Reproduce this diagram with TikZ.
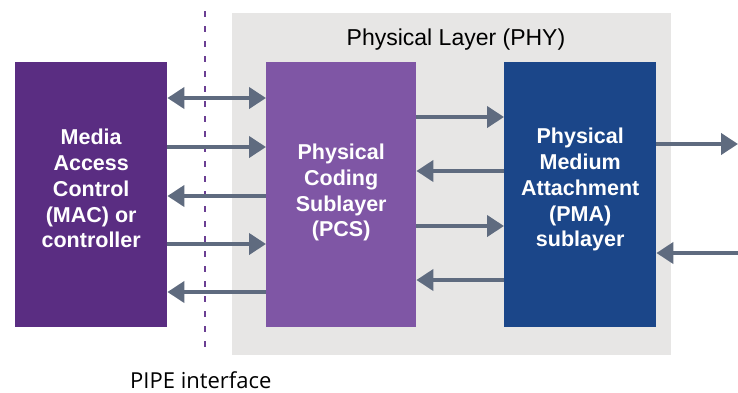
\documentclass[tikz,border=0pt]{standalone}
\usepackage{fontspec}
\setmainfont{Liberation Sans}
\newfontfamily\pipefont{Open Sans}
\usetikzlibrary{arrows.meta}
\definecolor{macc}{HTML}{5A2D82}
\definecolor{pcsc}{HTML}{7F56A5}
\definecolor{pmac}{HTML}{1B4689}
\definecolor{phyc}{HTML}{E7E6E5}
\definecolor{arrc}{HTML}{5F6B7F}
\definecolor{dashc}{HTML}{6B3F93}
\begin{document}
\begin{tikzpicture}[x=1pt,y=-1pt,
  blk/.style={draw=none,minimum height=265pt,inner sep=0pt,anchor=north west},
  blktxt/.style={inner sep=0pt,align=center,text=white,
    font=\fontsize{21.5}{25.8}\selectfont\bfseries},
  conn/.style={draw=arrc,line width=4pt,-{Triangle[length=17pt,width=21pt]}},
  conn2/.style={draw=arrc,line width=4pt,{Triangle[length=17pt,width=21pt]}-{Triangle[length=17pt,width=21pt]}}]
\useasboundingbox (0,0) rectangle (738,392);
\fill[white] (0,0) rectangle (738,392);
\node[fill=phyc,minimum width=439pt,minimum height=342pt,inner sep=0pt,anchor=north west] (phy) at (232,13) {};
\node[font=\fontsize{23}{26}\selectfont,anchor=base,inner sep=0pt] (phyt) at (456,45) {Physical Layer (PHY)};
\draw[dashc,line width=2.5pt,dash pattern=on 6pt off 9pt] (205,11) coordinate (dtop) -- (205,352) coordinate (dbot);
\node[blk,fill=macc,minimum width=152pt] (mac) at (15,62) {};
\node[blk,fill=pcsc,minimum width=150pt] (pcs) at (266,62) {};
\node[blk,fill=pmac,minimum width=152pt] (pma) at (504,62) {};
\node[blktxt] (mact) at ([yshift=6pt]mac.center) {Media\\Access\\Control\\(MAC) or\\controller};
\node[blktxt] (pcst) at ([yshift=2pt]pcs.center) {Physical\\Coding\\Sublayer\\(PCS)};
\node[blktxt] (pmat) at ([yshift=5pt]pma.center) {Physical\\Medium\\Attachment\\(PMA)\\sublayer};
\node[font=\pipefont\fontsize{22}{24}\selectfont,anchor=base west,inner sep=0pt] (pipe) at (130,388) {PIPE interface};
% MAC <-> PCS
\draw[conn2] (mac.east |- 0,98) -- (pcs.west |- 0,98);
\draw[conn] (mac.east |- 0,147) -- (pcs.west |- 0,147);
\draw[conn] (pcs.west |- 0,196) -- (mac.east |- 0,196);
\draw[conn] (mac.east |- 0,244) -- (pcs.west |- 0,244);
\draw[conn] (pcs.west |- 0,292) -- (mac.east |- 0,292);
% PCS <-> PMA
\draw[conn] (pcs.east |- 0,117) -- (pma.west |- 0,117);
\draw[conn] (pma.west |- 0,171) -- (pcs.east |- 0,171);
\draw[conn] (pcs.east |- 0,226) -- (pma.west |- 0,226);
\draw[conn] (pma.west |- 0,280) -- (pcs.east |- 0,280);
% PMA external
\coordinate (outr) at (738,144);
\coordinate (inr) at (738,253);
\draw[conn] (pma.east |- outr) -- (outr);
\draw[conn] (inr) -- (pma.east |- inr);
\end{tikzpicture}
\end{document}
